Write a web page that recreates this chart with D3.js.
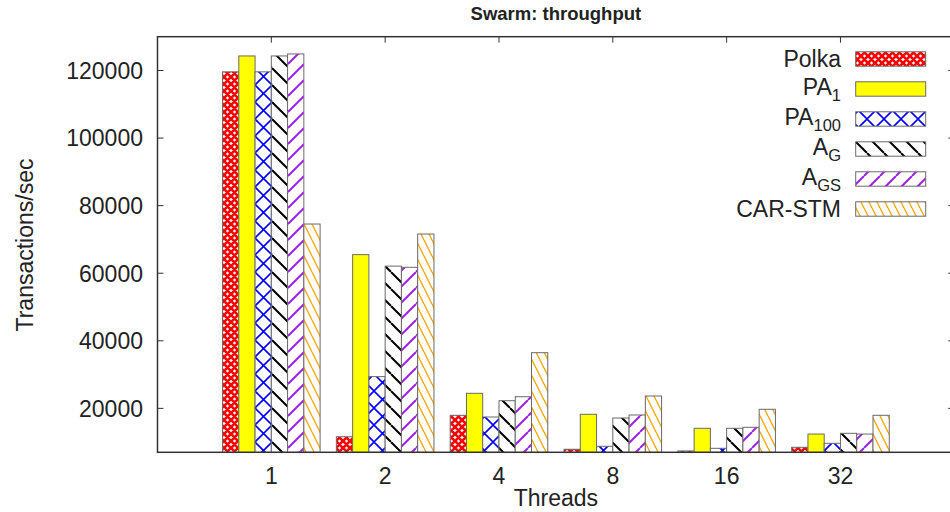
<!DOCTYPE html>
<html>
<head>
<meta charset="utf-8">
<script src="https://cdn.jsdelivr.net/npm/d3@7"></script>
<style>
  body { margin: 0; background: #fff; }
  text { font-family: "Liberation Sans", Arial, Helvetica, sans-serif; fill: #222; }
</style>
</head>
<body>
<div id="chart"></div>
<script>
// values (transactions/sec)
const threads = ["1", "2", "4", "8", "16", "32"];
const polka  = [119600, 11600, 17950, 7900, 7400, 8480];
const pa1    = [124300, 65500, 24460, 18250, 14100, 12400];
const pa100  = [119600, 29400, 17450, 8780, 8180, 9660];
const ag     = [124300, 62100, 22270, 17150, 14100, 12620];
const ags    = [124900, 61750, 23450, 18040, 14400, 12400];
const carstm = [74560, 71600, 36480, 23660, 19730, 17950];
const yTicks = [20000, 40000, 60000, 80000, 100000, 120000];

const series = [
  {name: "Polka", sub: null, values: polka, fill: "url(#pPolka)"},
  {name: "PA", sub: "1", values: pa1, fill: "#ffff00"},
  {name: "PA", sub: "100", values: pa100, fill: "url(#pPA100)"},
  {name: "A", sub: "G", values: ag, fill: "url(#pAG)"},
  {name: "A", sub: "GS", values: ags, fill: "url(#pAGS)"},
  {name: "CAR-STM", sub: null, values: carstm, fill: "url(#pCAR)"}
];

const width = 950, height = 512;
const plot = {left: 157.5, right: 954.3, top: 36.7, bottom: 452.3};

let svg = d3.select("#chart").append("svg")
    .attr("width", width)
    .attr("height", height);

// hatch patterns, drawn in screen space like gnuplot does
let defs = svg.append("defs");
function hatch(id, w, h, color, sw, dirs) {
    let p = defs.append("pattern")
        .attr("id", id)
        .attr("patternUnits", "userSpaceOnUse")
        .attr("width", w).attr("height", h);
    p.append("rect").attr("width", w).attr("height", h).attr("fill", "#fff");
    let d = "";
    [-1, 0, 1].forEach(i => {
        if (dirs.includes("\\")) d += `M${i * w},0L${i * w + w},${h}`;
        if (dirs.includes("/")) d += `M${i * w + w},0L${i * w},${h}`;
    });
    p.append("path").attr("d", d)
        .attr("stroke", color).attr("stroke-width", sw).attr("fill", "none");
}
hatch("pPolka", 7, 7, "#ff0000", 2.6, "\\/");
hatch("pPA100", 17, 17, "#0000ff", 1.6, "\\/");
hatch("pAG", 17, 17, "#000000", 2, "\\");
hatch("pAGS", 16, 16, "#a020f0", 2, "/");
hatch("pCAR", 8, 16, "#ffa500", 1.3, "\\");

let x = d3.scaleLinear().domain([-1, 6]).range([plot.left, plot.right]);
let y = d3.scaleLinear().domain([7000, 130000]).range([plot.bottom, plot.top]);
let barW = x(1 / 7) - x(0);

// mirrored ticks first so the bars sit over them
let g = svg.append("g");
g.selectAll(".ytick").data(yTicks).enter().append("path")
    .attr("d", d => `M${plot.left},${y(d)}h6M${plot.right},${y(d)}h-6`)
    .attr("stroke", "#333").attr("stroke-width", 1);
g.selectAll(".xtick").data(threads).enter().append("path")
    .attr("d", (d, i) => `M${x(i)},${plot.bottom}v-6M${x(i)},${plot.top}v6`)
    .attr("stroke", "#333").attr("stroke-width", 1);

// bars
series.forEach((s, j) => {
    svg.append("g").selectAll("rect")
        .data(s.values).enter().append("rect")
        .attr("x", (d, i) => x(i - 3 / 7 + j / 7))
        .attr("y", d => y(d))
        .attr("width", barW)
        .attr("height", d => y(7000) - y(d))
        .attr("fill", s.fill)
        .attr("stroke", "#6a6a6a")
        .attr("stroke-width", 1);
});

// border
svg.append("rect")
    .attr("x", plot.left).attr("y", plot.top)
    .attr("width", plot.right - plot.left).attr("height", plot.bottom - plot.top)
    .attr("fill", "none").attr("stroke", "#333").attr("stroke-width", 1.5);

// y tick labels
svg.append("g").selectAll("text").data(yTicks).enter().append("text")
    .attr("x", plot.left - 14.5)
    .attr("y", d => y(d))
    .attr("dy", "0.36em")
    .attr("text-anchor", "end")
    .attr("font-size", 23)
    .text(d => d);

// x tick labels
svg.append("g").selectAll("text").data(threads).enter().append("text")
    .attr("x", (d, i) => x(i))
    .attr("y", 484)
    .attr("text-anchor", "middle")
    .attr("font-size", 23)
    .text(d => d);

svg.append("text")
    .attr("x", (plot.left + plot.right) / 2).attr("y", 506)
    .attr("text-anchor", "middle").attr("font-size", 23)
    .text("Threads");

svg.append("text")
    .attr("transform", "translate(33,245) rotate(-90)")
    .attr("text-anchor", "middle").attr("font-size", 23)
    .text("Transactions/sec");

svg.append("text")
    .attr("x", (plot.left + plot.right) / 2).attr("y", 20)
    .attr("text-anchor", "middle").attr("font-size", 18.5)
    .attr("font-weight", "bold")
    .text("Swarm: throughput");

// legend
let legend = svg.append("g");
series.forEach((s, j) => {
    let cy = 59 + j * 30;
    legend.append("rect")
        .attr("x", 855.7).attr("y", cy - 7.2)
        .attr("width", 70).attr("height", 14.4)
        .attr("fill", s.fill)
        .attr("stroke", "#6a6a6a").attr("stroke-width", 1);
    let t = legend.append("text")
        .attr("x", 841)
        .attr("y", s.sub ? cy + 5.7 : cy + 8)
        .attr("text-anchor", "end")
        .attr("font-size", 23);
    t.append("tspan").text(s.name);
    if (s.sub) {
        t.append("tspan").attr("font-size", 16.5).attr("dy", 6.5).text(s.sub);
    }
});
</script>
</body>
</html>
